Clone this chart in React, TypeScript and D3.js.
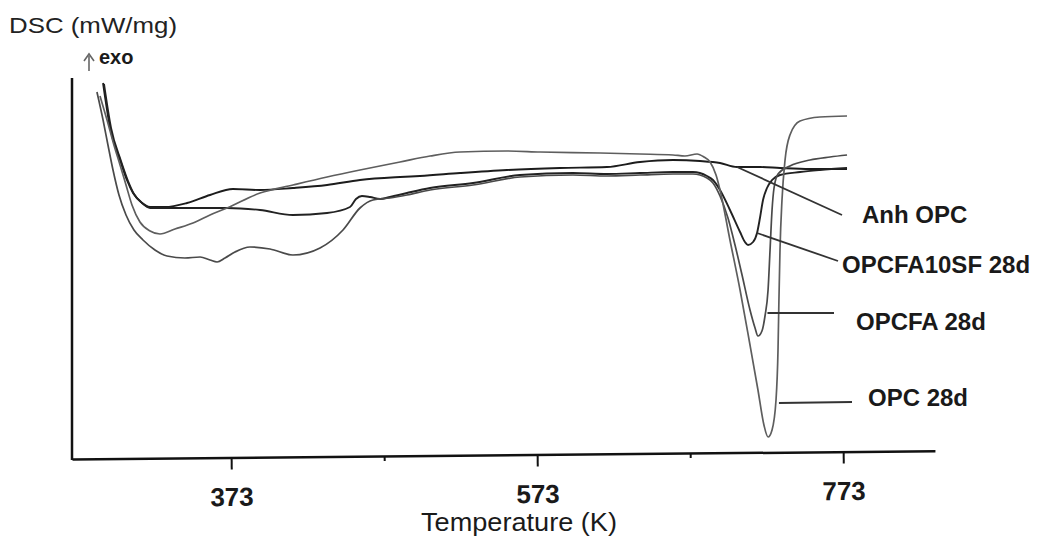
import React, { useEffect, useRef } from "react";
import * as d3 from "d3";

// [temperature (K), heat flow (arbitrary units, exo up)]
type Pt = [number, number];

const anhOpc: Pt[] = [
  [289.3, 3.73], [293.8, 3.29], [300.4, 2.96], [304.9, 2.76], [308.9, 2.63],
  [314.1, 2.54], [320.0, 2.49], [329.8, 2.49], [344.2, 2.53], [359.2, 2.61],
  [374.2, 2.67], [391.9, 2.66], [413.4, 2.68], [435.7, 2.71], [457.2, 2.76],
  [483.4, 2.79], [496.4, 2.8], [522.6, 2.83], [553.3, 2.86], [587.9, 2.88],
  [618.6, 2.89], [640.2, 2.94], [661.8, 2.96], [679.4, 2.95], [692.5, 2.93],
  [703.6, 2.89], [718.6, 2.89], [731.7, 2.88], [751.3, 2.87], [775.5, 2.87],
];

const opcfa10sf28d: Pt[] = [
  [289.9, 3.72], [294.5, 3.28], [301.0, 2.95], [305.6, 2.75], [309.5, 2.62],
  [314.7, 2.53], [320.0, 2.48], [333.0, 2.48], [346.1, 2.48], [370.3, 2.48],
  [391.9, 2.46], [413.4, 2.41], [435.7, 2.43], [450.7, 2.49], [454.6, 2.57],
  [458.5, 2.6], [463.8, 2.59], [470.3, 2.57], [476.8, 2.59], [487.9, 2.63],
  [503.0, 2.68], [531.1, 2.73], [561.8, 2.81], [596.4, 2.83], [618.6, 2.82],
  [640.2, 2.83], [661.8, 2.84], [674.8, 2.84], [684.0, 2.8], [687.9, 2.76],
  [692.5, 2.66], [699.0, 2.46], [705.6, 2.24], [708.8, 2.14], [710.8, 2.11],
  [714.1, 2.14], [716.7, 2.23], [718.6, 2.38], [720.6, 2.56], [723.2, 2.68],
  [726.5, 2.76], [731.7, 2.81], [744.8, 2.84], [757.8, 2.86], [775.5, 2.88],
];

const opcfa28d: Pt[] = [
  [285.3, 3.64], [289.3, 3.36], [292.5, 3.11], [295.8, 2.86], [299.7, 2.61],
  [304.3, 2.41], [309.5, 2.26], [315.4, 2.16], [323.2, 2.06], [331.1, 2.0],
  [342.8, 1.98], [352.7, 1.99], [359.2, 1.96], [363.8, 1.94], [369.0, 1.98],
  [375.5, 2.04], [385.3, 2.09], [398.4, 2.07], [413.4, 2.01], [431.1, 2.08],
  [446.1, 2.26], [457.2, 2.48], [465.7, 2.56], [476.8, 2.58], [487.9, 2.61],
  [503.0, 2.66], [531.1, 2.71], [561.8, 2.79], [596.4, 2.81], [618.6, 2.8],
  [640.2, 2.81], [661.8, 2.82], [674.8, 2.82], [684.0, 2.78], [687.9, 2.73],
  [692.5, 2.6], [697.7, 2.38], [702.3, 2.11], [706.9, 1.81], [712.1, 1.46],
  [715.4, 1.28], [717.3, 1.2], [719.9, 1.25], [721.9, 1.4], [723.9, 1.66],
  [725.2, 2.06], [726.5, 2.46], [727.8, 2.68], [730.4, 2.82], [738.2, 2.9],
  [751.3, 2.96], [764.4, 2.99], [775.5, 3.01],
];

const opc28d: Pt[] = [
  [287.3, 3.6], [291.9, 3.36], [296.4, 3.11], [300.4, 2.91], [304.3, 2.71],
  [308.2, 2.51], [313.4, 2.34], [320.0, 2.25], [326.5, 2.22], [336.3, 2.27],
  [348.1, 2.33], [359.2, 2.41], [370.3, 2.48], [391.9, 2.63], [413.4, 2.71],
  [435.7, 2.79], [457.2, 2.86], [483.4, 2.94], [503.0, 3.0], [522.6, 3.04],
  [553.3, 3.05], [574.9, 3.04], [614.1, 3.03], [640.2, 3.02], [661.8, 3.01],
  [669.6, 3.0], [677.5, 3.02], [682.0, 2.99], [686.0, 2.94], [689.9, 2.81],
  [692.5, 2.66], [699.0, 2.16], [705.6, 1.66], [712.1, 1.11], [717.3, 0.66],
  [721.2, 0.31], [723.9, 0.19], [726.5, 0.26], [729.1, 0.56], [730.4, 1.06],
  [731.0, 1.56], [731.7, 2.06], [733.0, 2.56], [735.0, 2.96], [738.2, 3.21],
  [744.8, 3.35], [757.8, 3.39], [775.5, 3.4],
];

const seriesNames = ["Anh OPC", "OPCFA10SF 28d", "OPCFA 28d", "OPC 28d"];
const seriesData = [anhOpc, opcfa10sf28d, opcfa28d, opc28d];
const seriesColors = ["#1c1c1c", "#222222", "#4a4a4a", "#5e5e5e"];
// point on each curve where the label's leader line starts
const leaderFrom: Pt[] = [[703.6, 2.89], [716.7, 2.23], [723.5, 1.43], [731.0, 0.53]];

const xTicksMajor = [373, 573, 773];
const xTicksMinor = [473, 673];

const FONT = "'Liberation Sans', Arial, sans-serif";

export default function App() {
  const svgRef = useRef<SVGSVGElement>(null);

  useEffect(() => {
    if (!svgRef.current) return;
    const svg = d3.select(svgRef.current);
    svg.selectAll("*").remove();

    const x = d3.scaleLinear().domain([269, 833]).range([72, 935]);
    const y = d3.scaleLinear().domain([0, 3.78]).range([456, 78]);

    // y axis (no ticks, just the spine)
    svg
      .append("line")
      .attr("x1", 72)
      .attr("x2", 72)
      .attr("y1", 78)
      .attr("y2", 460)
      .attr("stroke", "#111")
      .attr("stroke-width", 2.5);

    // x axis, slightly tilted as in the scanned figure
    const axisG = svg
      .append("g")
      .attr("transform", "translate(0,459) rotate(-0.55,72,0)");

    const major = axisG
      .append("g")
      .call(
        d3
          .axisBottom(x)
          .tickValues(xTicksMajor)
          .tickSize(12)
          .tickSizeOuter(0)
          .tickPadding(18)
          .tickFormat(d3.format("d"))
      );
    major.select(".domain").attr("stroke", "#111").attr("stroke-width", 2.5);
    major.selectAll(".tick line").attr("stroke", "#111").attr("stroke-width", 2);
    major
      .selectAll(".tick text")
      .attr("fill", "#1a1a1a")
      .attr("font-family", FONT)
      .attr("font-size", 26)
      .attr("font-weight", "bold");

    const minor = axisG
      .append("g")
      .call(d3.axisBottom(x).tickValues(xTicksMinor).tickSize(5).tickSizeOuter(0).tickFormat(() => ""));
    minor.select(".domain").remove();
    minor.selectAll(".tick line").attr("stroke", "#111").attr("stroke-width", 2);

    svg
      .append("text")
      .attr("x", 519)
      .attr("y", 531)
      .attr("text-anchor", "middle")
      .attr("font-family", FONT)
      .attr("font-size", 26)
      .attr("textLength", 196)
      .attr("lengthAdjust", "spacingAndGlyphs")
      .attr("fill", "#1a1a1a")
      .text("Temperature (K)");

    svg
      .append("text")
      .attr("x", 9)
      .attr("y", 33)
      .attr("font-family", FONT)
      .attr("font-size", 22)
      .attr("textLength", 168)
      .attr("lengthAdjust", "spacingAndGlyphs")
      .attr("fill", "#222")
      .text("DSC (mW/mg)");

    // "exo up" arrow
    svg
      .append("line")
      .attr("x1", 89)
      .attr("x2", 89)
      .attr("y1", 71)
      .attr("y2", 56)
      .attr("stroke", "#666")
      .attr("stroke-width", 1.6);
    svg
      .append("path")
      .attr("d", "M84,61 L89,54 L94,61")
      .attr("fill", "none")
      .attr("stroke", "#666")
      .attr("stroke-width", 1.6);
    svg
      .append("text")
      .attr("x", 99)
      .attr("y", 64)
      .attr("font-family", FONT)
      .attr("font-size", 20)
      .attr("font-weight", "bold")
      .attr("fill", "#1a1a1a")
      .text("exo");

    // curves
    const line = d3
      .line<Pt>()
      .x((d) => x(d[0]))
      .y((d) => y(d[1]))
      .curve(d3.curveMonotoneX);

    seriesData.forEach((data, i) => {
      svg
        .append("path")
        .datum(data)
        .attr("d", line)
        .attr("fill", "none")
        .attr("stroke", seriesColors[i])
        .attr("stroke-width", i < 2 ? 1.9 : 1.7)
        .attr("stroke-linejoin", "round");
    });

    // labels with leader lines
    const labelLayout = [
      { tx: 862, ty: 223, lx: 842, ly: 215 },
      { tx: 842, ty: 273, lx: 838, ly: 261 },
      { tx: 856, ty: 330, lx: 834, ly: 313 },
      { tx: 868, ty: 406, lx: 852, ly: 402 },
    ];

    labelLayout.forEach((l, i) => {
      const p = leaderFrom[i];
      svg
        .append("line")
        .attr("x1", x(p[0]))
        .attr("y1", y(p[1]))
        .attr("x2", l.lx)
        .attr("y2", l.ly)
        .attr("stroke", "#333")
        .attr("stroke-width", 1.8);
      svg
        .append("text")
        .attr("x", l.tx)
        .attr("y", l.ty)
        .attr("font-family", FONT)
        .attr("font-size", 24)
        .attr("font-weight", "bold")
        .attr("fill", "#1a1a1a")
        .text(seriesNames[i]);
    });
  }, []);

  return (
    <svg
      ref={svgRef}
      width={1044}
      height={538}
      style={{ position: "absolute", left: 0, top: 0, background: "#fff" }}
    />
  );
}
